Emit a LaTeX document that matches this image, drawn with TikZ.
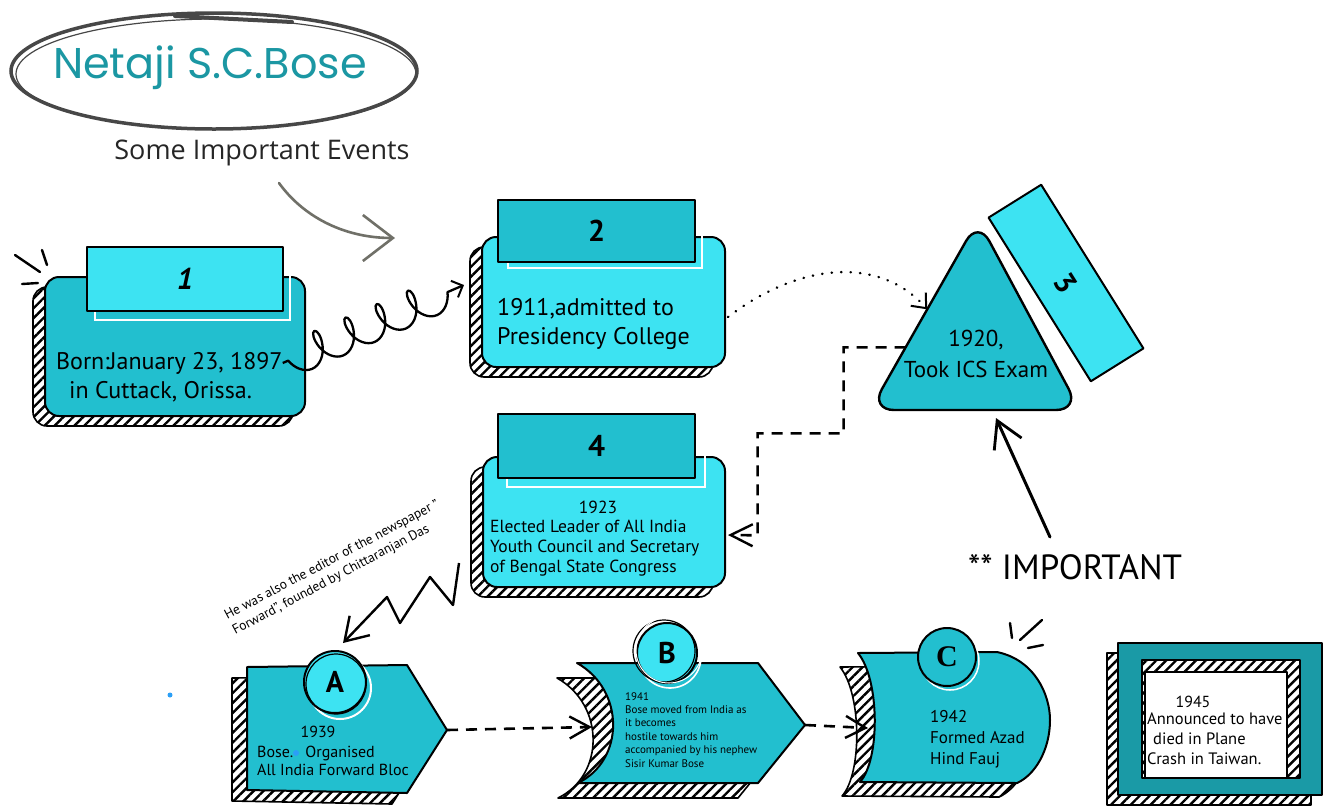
\documentclass[tikz,border=0pt]{standalone}
\usepackage{fontspec}
\setmainfont{PT Sans}
\newfontfamily\titlefont{Poppins}
\newfontfamily\subfont{Open Sans}
\newfontfamily\serifC{Liberation Serif}
\usetikzlibrary{arrows.meta,decorations.pathmorphing,patterns.meta,shapes.geometric,calc,shadows}
\definecolor{cyanL}{HTML}{3DE3F2}
\definecolor{tealM}{HTML}{22BFCF}
\definecolor{tealD}{HTML}{1A9AA6}
\definecolor{titleC}{HTML}{1B97A3}
\definecolor{inkgray}{HTML}{474747}
\definecolor{arrowgray}{HTML}{707068}
\begin{document}
\begin{tikzpicture}[x=1pt,y=-1pt,
  ink/.style={draw=black, line width=2pt, line join=round},
  hatchfill/.style={draw=black, line width=1.6pt, line join=round,
     pattern={Lines[angle=45,distance=7pt,line width=2.4pt]}, pattern color=black},
  body/.style={ink, rounded corners=14pt, inner sep=0pt,
     general shadow={hatchfill, shadow xshift=-12pt, shadow yshift=-10pt}},
  tabbox/.style={ink, line width=2.2pt, inner sep=0pt, font=\bfseries\fontsize{30}{32}\selectfont},
  whiteline/.style={draw=white, line width=2pt},
  hand/.style={font=\fontsize{24}{29}\selectfont, align=left, inner sep=0pt},
  handm/.style={font=\fontsize{17.5}{20}\selectfont, align=left, inner sep=0pt},
  hands/.style={font=\fontsize{11}{13.4}\selectfont, align=left, inner sep=0pt},
  circ/.style={circle, ink, inner sep=0pt, minimum size=62pt, font=\bfseries\fontsize{30}{32}\selectfont},
  dashline/.style={draw=black, line width=2.6pt, dash pattern=on 11pt off 8pt},
  dotline/.style={draw=black, line width=2.4pt, line cap=round, dash pattern=on 0.5pt off 9pt},
  spark/.style={draw=black, line width=2.4pt, line cap=round}
]
\useasboundingbox (0,0) rectangle (1331,807);
\fill[white] (0,0) rectangle (1331,807);

% ---------- title ----------
\node[draw=inkgray, line width=3.5pt, ellipse, minimum width=406pt, minimum height=116pt,
      inner sep=0pt] (title) at (214,71) {};
\draw[inkgray, line width=1.2pt] (216,74) ellipse (200 and 55);
\draw[inkgray, line width=4pt, line cap=round] (175,16) -- (292,22);
\node[text=titleC, font=\titlefont\fontsize{43}{46}\selectfont, inner sep=0pt] (ttl) at ($(title.center)+(-4,-3)$) {Netaji S.C.Bose};
\node[font=\subfont\fontsize{27}{30}\selectfont, text=black!85] (sub) at (262,153) {Some Important Events};
\coordinate (cs) at (279,183);
\coordinate (ce) at (395,238);
\draw[arrowgray, line width=2.6pt, line cap=round, -{Straight Barb[length=30pt,width=46pt,line width=2.6pt]}]
  (cs) .. controls (302,215) and (342,238) .. (ce);

% ---------- box 1 ----------
\node[body, fill=tealM, minimum width=260pt, minimum height=139pt] (b1) at (175,346.5) {};
\draw[whiteline] (95,256) rectangle (290,320);
\node[tabbox, fill=cyanL, minimum width=196pt, minimum height=64pt] (t1) at (185,279) {\itshape 1};
\node[hand, anchor=west] (b1a) at (56,363) {Born:January 23, 1897};
\node[hand, anchor=west] (b1b) at (69,392) {in Cuttack, Orissa.};
\draw[spark] (15,255) -- (40,272);
\draw[spark] (42,250) -- (47,265);
\draw[spark] (22,284) -- (38,283);

% ---------- box 2 ----------
\node[body, fill=cyanL, minimum width=243pt, minimum height=130pt] (b2) at (603.5,302) {};
\draw[whiteline] (508,204) rectangle (702,268);
\node[tabbox, fill=tealM, minimum width=197pt, minimum height=62pt] (t2) at (596.5,231) {2};
\node[hand, anchor=west] (b2t) at (497,324) {1911,admitted to\\Presidency College};
\coordinate (s2) at (464,285);
\draw[ink, line width=2.3pt, decorate,
      decoration={coil, mirror, aspect=0.6, segment length=34pt, amplitude=17pt, pre length=6pt, post length=16pt},
      -{Straight Barb[length=9pt,width=18pt,line width=2pt]}] (b1a.east) -- (s2);

% ---------- triangle 3 ----------
\coordinate (tA) at (978,220);
\coordinate (tR) at (1080,410);
\coordinate (tL) at (870,410);
\draw[ink, line width=2.4pt, fill=tealM, rounded corners=24pt] (tA) -- (tR) -- (tL) -- cycle;
\node[font=\fontsize{23}{31}\selectfont, align=center, inner sep=0pt] (t3) at (976,354) {1920,\\Took ICS Exam};
\node[ink, fill=cyanL, minimum width=193pt, minimum height=62pt, rotate=-58,
      font=\bfseries\fontsize{30}{32}\selectfont] (r3) at (1066,283) {3};
\coordinate (d3in) at ($(tA)!0.47!(tL)$);
\draw[dotline, -{Straight Barb[length=12pt,width=20pt,line width=2pt]}]
  ($(b2.east)+(2,15)$) .. controls (800,262) and (880,256) .. (d3in);

% ---------- box 4 ----------
\node[body, fill=cyanL, minimum width=242pt, minimum height=130pt] (b4) at (604,522) {};
\draw[whiteline] (507,423) rectangle (705,487);
\node[tabbox, fill=tealM, minimum width=197pt, minimum height=64pt] (t4) at (596.5,446) {4};
\node[handm] (b4y) at (598,507) {1923};
\node[handm, anchor=west] (b4t) at (490,548) {Elected Leader of All India\\Youth Council and Secretary\\of Bengal State Congress};
\coordinate (d0) at ($(tA)!0.67!(tL)$);
\coordinate (b4in) at ($(b4.east)+(2,13)$);
\draw[dashline, -{Straight Barb[length=22pt,width=22pt,line width=2.4pt]}]
  (d0) -- ++(-62,0) -- ++(0,86) -- ++(-86,0) -- ++(0,102) -- (b4in);

% ---------- A ----------
\draw[hatchfill, shift={(-15,11)}] (247,667) -- (407,665) -- (447,730) -- (407,793) -- (247,790) -- cycle;
\draw[ink, fill=tealM] (247,667) -- (407,665) -- (447,730) -- (407,793) -- (247,790) -- cycle;
\coordinate (aTip) at (447,730);
\draw[white, line width=2pt] (340,688) circle (31);
\node[circ, fill=cyanL] (cA) at (335,682) {A};
\draw[black, line width=1.2pt] (336,684) circle (30);
\node[handm, font=\fontsize{16}{18}\selectfont] (aY) at (318,732) {1939};
\node[handm, font=\fontsize{16}{18}\selectfont, anchor=west] (aT) at (257,761) {Bose.\hspace{12pt}Organised\\All India Forward Bloc};
\fill[cyanL!70!blue] (296,753) circle (3);
\fill[cyanL!70!blue] (170,695) circle (2.5);
\coordinate (z0) at ($(b4.south west)+(-23,-25)$);
\draw[ink, line width=2.4pt, -{Straight Barb[length=22pt,width=28pt,line width=2.4pt]}]
  (z0) -- (453,605) -- (430,577) -- (400,623) -- (387,597) -- ($(cA.north)+(8,-7)$);
\node[font=\fontsize{13.5}{17}\selectfont, align=left, rotate=28, inner sep=0pt] (note) at (336,568)
  {He was also the editor of the newspaper "\\Forward", founded by Chittaranjan Das};

% ---------- B ----------
\draw[hatchfill, shift={(-20,15)}] (577,663) -- (758,663) -- (805,725) -- (758,783) -- (578,783) .. controls (625,760) and (625,690) .. cycle;
\draw[ink, fill=tealM] (577,663) -- (758,663) -- (805,725) -- (758,783) -- (578,783) .. controls (625,760) and (625,690) .. cycle;
\coordinate (bIn) at (592,727);
\coordinate (bTip) at (805,725);
\draw[white, line width=1.6pt] (670,657) circle (31);
\node[circ, fill=cyanL, minimum size=60pt] (cB) at (667,653) {B};
\draw[black, line width=1.2pt] (664,651) circle (31);
\draw[white, line width=1pt] (669,650) circle (33);
\node[hands, anchor=north west] (bT) at (625,692) {1941\\Bose moved from India as\\it becomes\\hostile towards him\\accompanied by his nephew\\Sisir Kumar Bose};
\draw[dashline, -{Straight Barb[length=20pt,width=22pt,line width=2.4pt]}] (aTip) -- (bIn);

% ---------- C ----------
\draw[hatchfill, shift={(-18,14)}] (858,653) -- (997,652) .. controls (1035,660) and (1050,695) .. (1050,720)
   .. controls (1050,750) and (1035,775) .. (1017,783) -- (860,782) .. controls (880,760) and (880,680) .. cycle;
\draw[ink, fill=tealM] (858,653) -- (997,652) .. controls (1035,660) and (1050,695) .. (1050,720)
   .. controls (1050,750) and (1035,775) .. (1017,783) -- (860,782) .. controls (880,760) and (880,680) .. cycle;
\coordinate (cIn) at (868,728);
\draw[white, line width=1.5pt] (950,661) circle (29);
\node[circ, fill=tealM, minimum size=58pt, font=\serifC\bfseries\fontsize{30}{32}\selectfont] (cC) at (947,657) {C};
\node[handm, font=\fontsize{17}{21}\selectfont, anchor=north west] (cT) at (930,710) {1942\\Formed Azad\\Hind Fauj};
\draw[dashline, -{Straight Barb[length=20pt,width=22pt,line width=2.4pt]}] (bTip) -- (cIn);
\draw[spark] (1010,623) -- (1012,638);
\draw[spark] (1020,640) -- (1042,620);
\draw[spark] (1028,648) -- (1043,645);

% ---------- final box ----------
\draw[hatchfill] (1107,653) rectangle (1311,805);
\draw[ink, line width=2.4pt, fill=tealD] (1118,643) rectangle (1322,795);
\draw[hatchfill, preaction={fill=white}] (1142,660) rectangle (1300,778);
\draw[ink, fill=white] (1145,672) rectangle (1287,778);
\node[handm, font=\fontsize{16}{18}\selectfont] (fY) at (1193,702) {1945};
\node[handm, font=\fontsize{16.5}{20}\selectfont, anchor=north west] (fT) at (1147,713) {Announced to have\\\hspace*{6pt}died in Plane\\Crash in Taiwan.};

% ---------- important ----------
\node[font=\fontsize{35}{38}\selectfont, inner sep=0pt] (imp) at (1075,567) {** IMPORTANT};
\coordinate (impS) at (1050,537);
\coordinate (tB) at ($(tL)!0.6!(tR)+(0,8)$);
\draw[ink, line width=3pt, line cap=round, -{Straight Barb[length=26pt,width=30pt,line width=2.8pt]}] (impS) -- (tB);
\end{tikzpicture}
\end{document}
